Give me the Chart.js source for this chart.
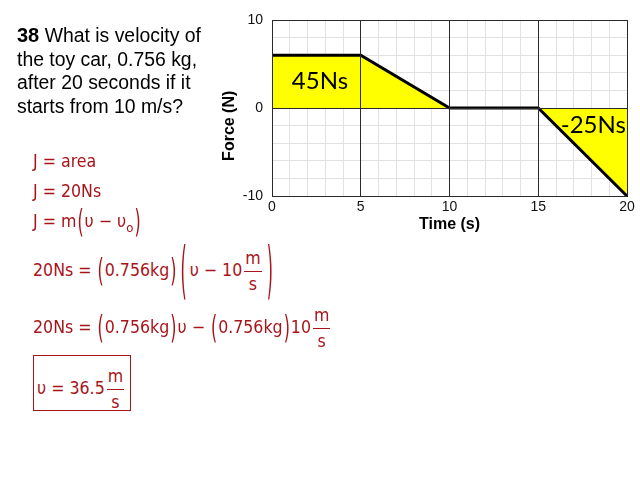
<!DOCTYPE html>
<html><head><meta charset="utf-8">
<script src="https://cdn.jsdelivr.net/npm/chart.js@4/dist/chart.umd.min.js"></script>
<style>
html,body{margin:0;padding:0;background:#fff;width:640px;height:480px;overflow:hidden;position:relative}
#c{position:absolute;left:0;top:0}
.q{position:absolute;left:17px;top:24px;font-family:'Liberation Sans',Arial,sans-serif;font-size:19.4px;line-height:23.5px;color:#000;white-space:nowrap}
.q b{font-size:20px}
.eq{position:absolute;left:33px;font-family:'DejaVu Sans Condensed','DejaVu Sans',sans-serif;font-stretch:condensed;font-size:17.6px;line-height:20px;color:#a8141a;white-space:nowrap}
.p{display:inline-block;transform:scaleY(1.8);margin:0 1px}
.P{display:inline-block;transform:scaleY(3.5);margin:0 3px}
.fr{display:inline-block;vertical-align:middle;text-align:center;margin:-20px 2px}
.fr span{display:block;line-height:25px;padding:0 1px}
.fr span:first-child{border-bottom:1px solid #a8141a}
.sb{position:relative;top:5px;font-size:13px}
.box{position:absolute;left:33px;top:355px;width:98px;height:56px;box-sizing:border-box;border:1px solid #a8141a}
</style>
</head><body>
<canvas id="c" width="640" height="240"></canvas>
<div class="q"><b>38</b> What is velocity of<br>the toy car, 0.756 kg,<br>after 20 seconds if it<br>starts from 10 m/s?</div>
<div class="eq" style="top:151px">J = area</div>
<div class="eq" style="top:181px">J = 20Ns</div>
<div class="eq" style="top:211px">J = m<span class="p">(</span>υ − υ<span class="sb">o</span><span class="p">)</span></div>
<div class="eq" style="top:260px">20Ns = <span class="p">(</span>0.756kg<span class="p">)</span><span class="P">(</span>υ − 10<span class="fr"><span>m</span><span>s</span></span><span class="P">)</span></div>
<div class="eq" style="top:317px">20Ns = <span class="p">(</span>0.756kg<span class="p">)</span>υ − <span class="p">(</span>0.756kg<span class="p">)</span>10<span class="fr"><span>m</span><span>s</span></span></div>
<div class="box"></div>
<div class="eq" style="top:378px;left:37px">υ = 36.5<span class="fr"><span>m</span><span>s</span></span></div>
<script>
const timeSec = [0, 5, 10, 15, 20];
const forceN = [6, 6, 0, 0, -10];
const xTickLabels = ['0', '5', '10', '15', '20'];
const yTickLabels = ['-10', '0', '10'];
const areaLabels = ['45Ns', '-25Ns'];
const areaLabelX = [2.7, 18.1];
const areaLabelY = [3, -2];

const areaLabelPlugin = {
  id: 'areaLabels',
  afterDatasetsDraw(chart) {
    const {ctx, scales: {x, y}} = chart;
    ctx.save();
    ctx.font = '24px Lato';
    ctx.fillStyle = '#000';
    ctx.textAlign = 'center';
    ctx.textBaseline = 'middle';
    areaLabels.forEach((t, i) => ctx.fillText(t, x.getPixelForValue(areaLabelX[i]), y.getPixelForValue(areaLabelY[i])));
    ctx.restore();
  }
};

const tickFont = {family: 'Liberation Sans', size: 14};
const titleFont = {family: 'Liberation Sans', size: 16, weight: 'bold'};
const MAJOR = '#2a2a2a', MINOR = '#e2e2e2';

new Chart(document.getElementById('c'), {
  type: 'line',
  data: {
    datasets: [{
      data: timeSec.map((t, i) => ({x: t, y: forceN[i]})),
      borderColor: '#000', borderWidth: 3, backgroundColor: '#ffff00',
      fill: 'origin', pointRadius: 0, tension: 0, xAxisID: 'x', yAxisID: 'y'
    }]
  },
  options: {
    responsive: false, animation: false, devicePixelRatio: 1,
    layout: {padding: {left: 217, right: 13, top: 20, bottom: 0}},
    plugins: {legend: {display: false}, tooltip: {enabled: false}},
    scales: {
      x: {
        type: 'linear', position: 'bottom', min: 0, max: 20,
        ticks: {stepSize: 1, autoSkip: false, maxRotation: 0, padding: 3, color: '#111', font: tickFont,
          callback: v => xTickLabels.includes(String(v)) ? String(v) : ''},
        grid: {color: c => (c.tick && xTickLabels.includes(String(c.tick.value))) ? MAJOR : MINOR, drawTicks: false},
        border: {display: true, color: '#000', width: 1},
        title: {display: true, text: 'Time (s)', color: '#000', font: titleFont, padding: {top: 0, bottom: 6}},
        afterFit: s => { s.height = 44; }
      },
      x2: {
        type: 'linear', position: 'bottom', min: 0, max: 20, z: 1,
        ticks: {display: false, stepSize: 5},
        grid: {color: MAJOR, drawTicks: false, z: 1},
        border: {display: false},
        afterFit: s => { s.height = 0; }
      },
      y: {
        type: 'linear', position: 'left', min: -10, max: 10,
        ticks: {stepSize: 2, autoSkip: false, padding: 9, color: '#111', font: tickFont,
          callback: v => yTickLabels.includes(String(v)) ? String(v) : ''},
        grid: {color: c => (c.tick && yTickLabels.includes(String(c.tick.value))) ? MAJOR : MINOR, drawTicks: false},
        border: {display: true, color: '#000', width: 1},
        title: {display: true, text: 'Force (N)' + '\u00a0'.repeat(8), color: '#000', font: titleFont, padding: {top: 3, bottom: 0}},
        afterFit: s => { s.width = 55; }
      },
      y2: {
        type: 'linear', position: 'left', min: -10, max: 10, z: 1,
        ticks: {display: false, stepSize: 10},
        grid: {color: MAJOR, drawTicks: false, z: 1},
        border: {display: false},
        afterFit: s => { s.width = 0; }
      }
    }
  },
  plugins: [areaLabelPlugin]
});
</script>
</body></html>
